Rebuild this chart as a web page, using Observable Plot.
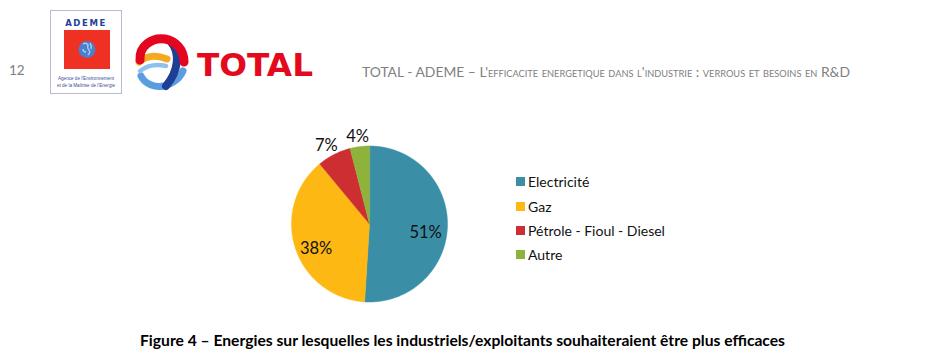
<!DOCTYPE html>
<html><head><meta charset="utf-8">
<script src="https://cdn.jsdelivr.net/npm/d3@7"></script>
<script src="https://cdn.jsdelivr.net/npm/@observablehq/plot@0.6"></script>
<style>
html,body{margin:0;padding:0;background:#fff;}
#page{position:relative;width:934px;height:355px;overflow:hidden;font-family:Lato,"Liberation Sans",sans-serif;background:#fff;}
#deco{position:absolute;left:0;top:0;}
#chart{position:absolute;left:0;top:120px;}
#legend{position:absolute;left:516px;top:169.5px;}
.row{display:flex;align-items:center;height:24.4px;}
.sw{width:9px;height:9px;margin-right:3px;flex:none;}
.lt{font-size:14px;color:#111;white-space:nowrap;}
</style></head><body>
<div id="page">
<svg id="deco" width="934" height="355" xmlns="http://www.w3.org/2000/svg"></svg>
<div id="chart"></div>
<div id="legend"></div>
</div>
<script>
// ---- data ----
const categories = ["Electricité", "Gaz", "Pétrole - Fioul - Diesel", "Autre"];
const shares = [51, 38, 7, 4];
const shareLabels = ["51%", "38%", "7%", "4%"];
const sliceColors = ["#3a8fa6", "#fdb813", "#cd2e32", "#8fb23a"];
const pageNumber = "12";
const headerMain = "TOTAL - ADEME – L'";
const headerSmall = "efficacite energetique dans l'industrie : verrous et besoins en ";
const headerEnd = "R&D";
const ademeTitle = "ADEME";
const ademeLines = ["Agence de l'Environnement", "et de la Maîtrise de l'Energie"];
const totalWord = "TOTAL";
const captionText = "Figure 4 – Energies sur lesquelles les industriels/exploitants souhaiteraient être plus efficaces";

// ---- pie geometry from the values ----
const arcs = d3.pie().sort(null).value(d => d)(shares);
const verts = [];
arcs.forEach((a, i) => {
  verts.push({cat: categories[i], x: 0, y: 0});
  const n = Math.max(2, Math.ceil((a.endAngle - a.startAngle) / (Math.PI / 360)));
  for (let k = 0; k <= n; k++) {
    const t = a.startAngle + (a.endAngle - a.startAngle) * k / n;
    verts.push({cat: categories[i], x: Math.sin(t), y: Math.cos(t)});
  }
});
const labelData = arcs.map((a, i) => {
  const m = (a.startAngle + a.endAngle) / 2;
  const r = shares[i] >= 10 ? 0.72 : 1.22;
  return {x: r * Math.sin(m), y: r * Math.cos(m), text: shareLabels[i]};
});

const cx = 369, cy = 223.5 - 120, R = 78;
const plot = Plot.plot({
  width: 934, height: 200, margin: 0,
  style: {background: "transparent", fontFamily: "Lato, sans-serif"},
  x: {domain: [-1, 1], range: [cx - R, cx + R], axis: null},
  y: {domain: [-1, 1], range: [cy + R, cy - R], axis: null},
  color: {domain: categories, range: sliceColors},
  marks: [
    Plot.line(verts, {x: "x", y: "y", z: "cat", fill: "cat", stroke: "cat", strokeWidth: 0.5, curve: "linear-closed"}),
    Plot.text(labelData, {x: "x", y: "y", text: "text", fontSize: 16.5, fill: "#111", dy: 7})
  ]
});
document.getElementById("chart").appendChild(plot);

// ---- legend from the plot's color scale ----
const colorScale = plot.scale("color");
const leg = document.getElementById("legend");
categories.forEach(c => {
  const row = document.createElement("div"); row.className = "row";
  const sw = document.createElement("div"); sw.className = "sw"; sw.style.background = colorScale.apply(c);
  const t = document.createElement("span"); t.className = "lt"; t.textContent = c;
  row.appendChild(sw); row.appendChild(t); leg.appendChild(row);
});

// ---- page decoration (header, logos, caption) ----
const svg = d3.select("#deco");
svg.append("text").attr("x", 9).attr("y", 75).attr("font-size", 13.5).attr("fill", "#808080")
  .attr("font-family", "Lato, sans-serif").text(pageNumber);
// ADEME logo
svg.append("rect").attr("x", 50.5).attr("y", 10.5).attr("width", 71).attr("height", 83)
  .attr("fill", "#fff").attr("stroke", "#b9bbd6").attr("stroke-width", 1);
svg.append("text").attr("x", 86).attr("y", 26).attr("text-anchor", "middle").attr("font-size", 8.5)
  .attr("font-weight", "bold").attr("letter-spacing", 1.6).attr("fill", "#23409a")
  .attr("font-family", "DejaVu Sans, sans-serif").text(ademeTitle);
svg.append("rect").attr("x", 64).attr("y", 30).attr("width", 46).attr("height", 39).attr("fill", "#ef3124");
svg.append("circle").attr("cx", 87).attr("cy", 49.5).attr("r", 8.5).attr("fill", "#4a7fd0");
svg.append("path").attr("d", "M83,44 q3,-2 5,1 q-1,3 1,5 q2,2 -1,5 M86,52 q-3,0 -3,-3 M90,43 q2,3 1,6")
  .attr("stroke", "#a9ccf3").attr("stroke-width", 1.4).attr("fill", "none");
ademeLines.forEach((l, i) => svg.append("text").attr("x", 86).attr("y", 79.5 + i * 7.5)
  .attr("text-anchor", "middle").attr("font-size", 4.6).attr("fill", "#3a4f9a")
  .attr("font-family", "Liberation Sans, sans-serif").text(l));
// TOTAL logo ball
const g = svg.append("g");
g.append("path").attr("d", "M141,76 C145,84 155,88 164,86 C173,84 180,78 183,71")
  .attr("stroke", "#5b9ee0").attr("stroke-width", 7).attr("fill", "none").attr("stroke-linecap", "round");
g.append("path").attr("d", "M139,62 C147,55 157,55 167,59")
  .attr("stroke", "#f6a821").attr("stroke-width", 7).attr("fill", "none").attr("stroke-linecap", "round");
g.append("path").attr("d", "M140,71 C148,65 157,64 166,66")
  .attr("stroke", "#8fc1ef").attr("stroke-width", 4.5).attr("fill", "none").attr("stroke-linecap", "round");
g.append("path").attr("d", "M171,42 C180,52 179,71 166,86")
  .attr("stroke", "#1f3f96").attr("stroke-width", 8).attr("fill", "none").attr("stroke-linecap", "round");
g.append("path").attr("d", "M140,60 C139,46 152,37 165,39 C176,41 184,50 184,62")
  .attr("stroke", "#e4051f").attr("stroke-width", 9).attr("fill", "none").attr("stroke-linecap", "round");
svg.append("text").attr("x", 197).attr("y", 75.5).attr("font-size", 31.5).attr("font-weight", "bold")
  .attr("fill", "#e30a1e").attr("font-family", "DejaVu Sans, sans-serif")
  .attr("textLength", 116).attr("lengthAdjust", "spacingAndGlyphs").text(totalWord);
// header text
const ht = svg.append("text").attr("x", 362).attr("y", 76.5).attr("font-size", 13.5).attr("fill", "#808080")
  .attr("font-family", "Lato, sans-serif").attr("textLength", 488).attr("lengthAdjust", "spacingAndGlyphs");
ht.append("tspan").text(headerMain);
ht.append("tspan").style("font-variant", "small-caps").text(headerSmall);
ht.append("tspan").text(headerEnd);
// caption
svg.append("text").attr("x", 140).attr("y", 345.5).attr("font-size", 15.5).attr("font-weight", "bold")
  .attr("fill", "#000").attr("font-family", "Lato, sans-serif")
  .attr("textLength", 645).attr("lengthAdjust", "spacingAndGlyphs").text(captionText);
</script>
</body></html>
